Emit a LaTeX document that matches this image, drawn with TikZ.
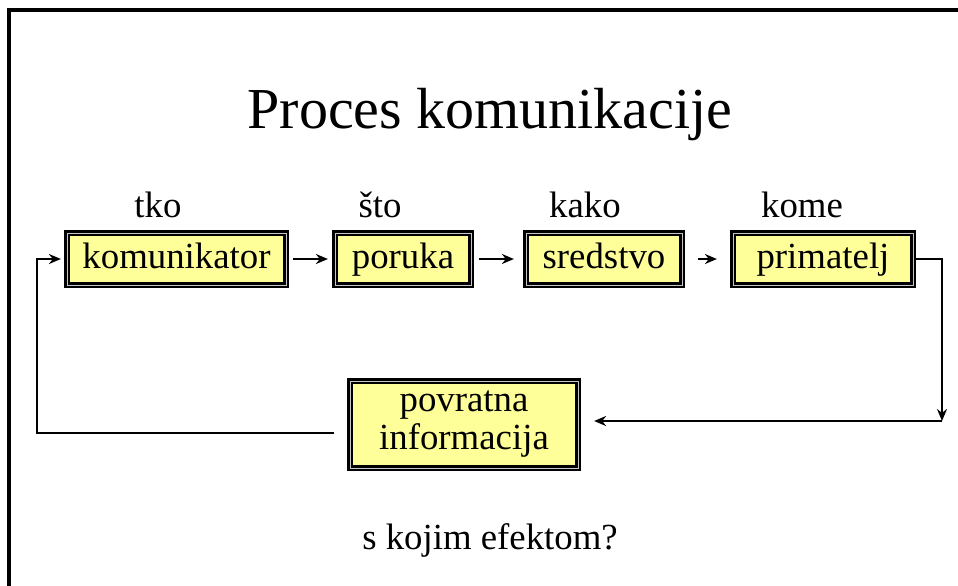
\documentclass[tikz,border=0pt]{standalone}
\usepackage{fontspec}
\setmainfont{Liberation Serif}
\usepackage{tikz}
\usetikzlibrary{arrows.meta}
\usepackage{xcolor}
\definecolor{boxyellow}{RGB}{255,255,153}

\begin{document}
\begin{tikzpicture}[x=0.5pt,y=-0.5pt,
  box/.style={draw=black, line width=1.1pt, double=gray!45, double distance=0.5pt,
    fill=boxyellow, font=\fontsize{18.4}{21}\selectfont, inner sep=0pt,
    minimum height=26pt, align=center},
  onebox/.style={box, text height=13pt, text depth=4pt},
  lbl/.style={font=\fontsize{18.4}{21}\selectfont, inner sep=0pt},
  arr/.style={line width=1pt, -{Stealth[length=6pt,width=5pt]}},
  ln/.style={line width=1pt}]
\useasboundingbox (0,0) rectangle (958,585);
\draw[line width=2pt] (9,600) -- (9,10) -- (970,10);
\node[font=\fontsize{29}{34}\selectfont, inner sep=0pt] (title) at (490,115) {Proces komunikacije};
\node[lbl] (tko) at (158,205) {tko};
\node[lbl] (sto) at (380,205) {što};
\node[lbl] (kako) at (585,205) {kako};
\node[lbl] (kome) at (802,205) {kome};
\node[onebox, minimum width=109.5pt] (kom) at (176.5,259) {komunikator};
\node[onebox, minimum width=68pt] (por) at (403,259) {poruka};
\node[onebox, minimum width=78pt] (sre) at (604,259) {sredstvo};
\node[onebox, minimum width=90pt] (pri) at (823,259) {primatelj};
\node[box, minimum width=114pt, minimum height=43.5pt] (pov) at (464,424.5) {povratna\\[-2pt]informacija};
\node[lbl] (efekt) at (490,540) {s kojim efektom?};
\coordinate (rt) at (942,259);
\coordinate (rb) at (942,421);
\coordinate (lb) at (37,433);
\coordinate (lt) at (37,259);
% forward chain
\draw[arr, shorten <=3pt, shorten >=3pt] (kom) -- (por);
\draw[arr, shorten <=3.5pt, shorten >=5.5pt] (por) -- (sre);
\draw[arr, shorten <=7.5pt, shorten >=7.5pt] (sre) -- (pri);
% feedback
\draw[arr] (pri.east) -- (rt) -- (rb);
\draw[arr, shorten >=7.5pt] (rb) -- (rb -| pov.east);
\draw[arr, shorten <=7.5pt, shorten >=2.5pt] (lb -| pov.west) -- (lb) -- (lt) -- (kom.west);
\end{tikzpicture}
\end{document}
